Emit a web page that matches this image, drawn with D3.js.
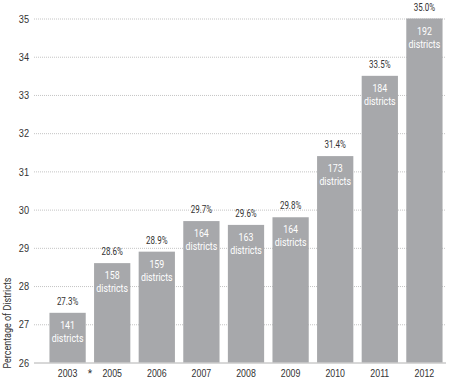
<!DOCTYPE html>
<html><head><meta charset="utf-8">
<script src="https://cdn.jsdelivr.net/npm/d3@7"></script>
<style>
html,body{margin:0;padding:0;background:#fff;}
svg{display:block;font-family:Roboto,"Liberation Sans",sans-serif;}
</style></head>
<body><svg id="c" width="450" height="380"></svg>
<script>
const years = ["2003","2005","2006","2007","2008","2009","2010","2011","2012"];
const percents = [27.3,28.6,28.9,29.7,29.6,29.8,31.4,33.5,35.0];
const districts = [141,158,159,164,163,164,173,184,192];
const yTicks = [26,27,28,29,30,31,32,33,34,35];
const yTitle = "Percentage of Districts";

const SX = 0.8; // horizontal condense factor
const svg = d3.select("#c");
const x = d3.scaleBand().domain(years).range([45,447]).paddingInner(0.187).paddingOuter(0.1);
const y = d3.scaleLinear().domain([26,35]).range([362.5,18.5]);

// gridlines
svg.append("g").selectAll("line").data(yTicks.filter(d=>d>26)).join("line")
  .attr("x1",34).attr("x2",446).attr("y1",d=>y(d)+0.5).attr("y2",d=>y(d)+0.5)
  .attr("stroke","#c4c4c4").attr("stroke-width",1).attr("stroke-dasharray","1,1");

// y axis labels
const yAxis = d3.axisLeft(y).tickValues(yTicks).tickSize(0).tickPadding(0).tickFormat(d3.format("d"));
const ga = svg.append("g").attr("transform","translate(29,0)").call(yAxis);
ga.select(".domain").remove();
ga.selectAll("text").attr("fill","#333").attr("font-size",11.5).attr("font-family",null)
  .attr("transform",`scale(${SX},1)`);

// bars
const bars = svg.append("g").selectAll("g").data(years).join("g");
bars.append("rect")
  .attr("x",d=>x(d)).attr("width",x.bandwidth())
  .attr("y",(d,i)=>y(percents[i])).attr("height",(d,i)=>y(26)-y(percents[i]))
  .attr("fill","#a7a8ab");
function ctext(g, dy, size, color, fn){
  g.append("text")
    .attr("transform",(d,i)=>`translate(${x(d)+x.bandwidth()/2},${y(percents[i])+dy}) scale(${SX},1)`)
    .attr("text-anchor","middle").attr("font-size",size).attr("fill",color)
    .text(fn);
}
ctext(bars,-8,10,"#333",(d,i)=>d3.format(".1f")(percents[i])+"%");
ctext(bars,16,11,"#fff",(d,i)=>districts[i]);
ctext(bars,29,11,"#fff",()=> "districts");

// baseline
svg.append("line").attr("x1",34).attr("x2",446).attr("y1",y(26)+0.5).attr("y2",y(26)+0.5)
  .attr("stroke","#b0b0b0").attr("stroke-width",1);

// x axis
const xAxis = d3.axisBottom(x).tickSize(0).tickPadding(0);
const gx = svg.append("g").attr("transform",`translate(0,${y(26)})`).call(xAxis);
gx.select(".domain").remove();
gx.selectAll("text").attr("fill","#333").attr("font-size",11).attr("font-family",null)
  .attr("dy",null).attr("y",14.3).attr("transform",`scale(${SX},1)`);

// asterisk between 2003 and 2005
svg.append("text").attr("x",(x("2003")+x.bandwidth()+x("2005"))/2).attr("y",y(26)+14)
  .attr("text-anchor","middle").attr("font-size",10).attr("fill","#333").text("*");

// y title
svg.append("text").attr("transform",`translate(10.5,323) rotate(-90) scale(0.78,1)`)
  .attr("text-anchor","middle").attr("font-size",11.5).attr("fill","#333").text(yTitle);
</script></body></html>
